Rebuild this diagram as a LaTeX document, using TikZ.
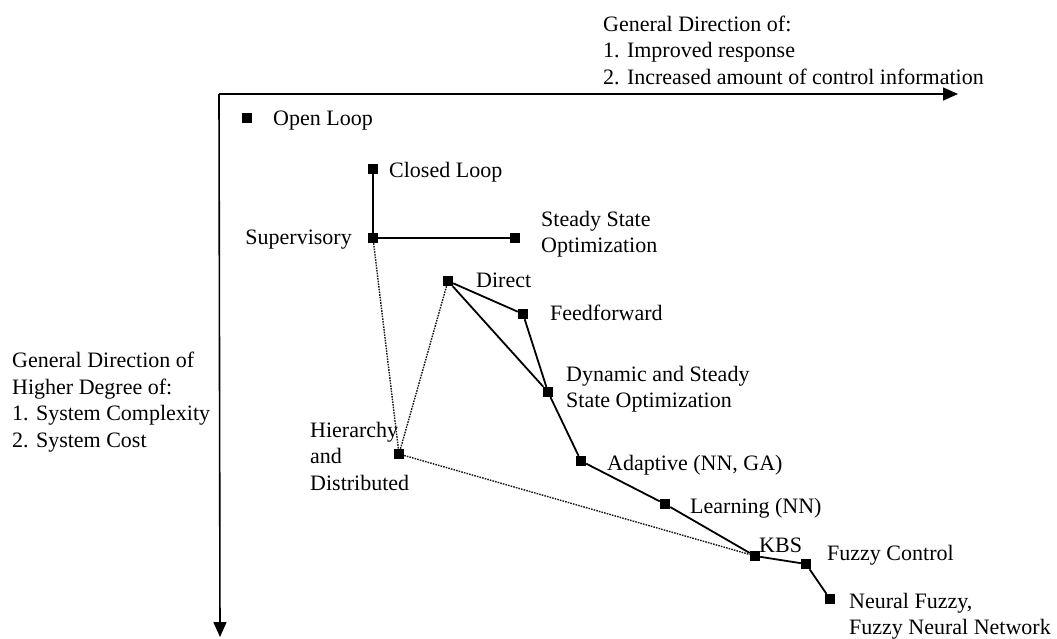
\documentclass[tikz,border=0pt]{standalone}
\usepackage{fontspec}
\setmainfont{Liberation Serif}
\usetikzlibrary{arrows.meta}
\begin{document}
\begin{tikzpicture}[x=1pt,y=-1pt,
  pt/.style={fill=black,draw=none,minimum size=10pt,inner sep=0pt},
  lbl/.style={anchor=west,inner sep=0pt,font=\fontsize{22}{26.5}\selectfont,align=left},
  sline/.style={line width=1.8pt},
  dline/.style={line width=1.4pt,black!90,dash pattern=on 1.6pt off 1.1pt},
  axis/.style={line width=1.6pt,-{Triangle[length=15pt,width=13pt]}}]
\useasboundingbox (0,0) rectangle (1057,638);
% axes
\coordinate (corner) at (219,94);
\coordinate (xend) at (958,94);
\coordinate (yend) at (220,637);
\draw[axis] (corner) -- (xend);
\draw[axis] (corner) -- (yend);
% points
\node[pt] (ol)  at (247,118) {};
\node[pt] (cl)  at (373,169) {};
\node[pt] (sup) at (373,238) {};
\node[pt] (sso) at (515,238) {};
\node[pt] (dir) at (448,281) {};
\node[pt] (ff)  at (523,314) {};
\node[pt] (dyn) at (548,392) {};
\node[pt] (hd)  at (399,454) {};
\node[pt] (ada) at (581,461) {};
\node[pt] (lrn) at (665,504) {};
\node[pt] (kbs) at (755,556) {};
\node[pt] (fc)  at (806,564) {};
\node[pt] (nf)  at (830,599) {};
% solid connectors
\draw[sline] (cl) -- (sup);
\draw[sline] (sup) -- (sso);
\draw[sline] (dir) -- (ff);
\draw[sline] (dir) -- (dyn);
\draw[sline] (ff) -- (dyn);
\draw[sline] (dyn) -- (ada) -- (lrn) -- (kbs) -- (fc) -- (nf);
% dotted connectors
\draw[dline] (sup) -- (hd);
\draw[dline] (dir) -- (hd);
\draw[dline] (hd) -- (kbs);
% labels
\node[lbl] (tol) at (273,121) {Open Loop};
\node[lbl] (tcl) at (389,172) {Closed Loop};
\node[lbl,anchor=east] (tsup) at (352,240) {Supervisory};
\node[lbl] (tsso) at (541,234) {Steady State\\Optimization};
\node[lbl] (tdir) at (476,280) {Direct};
\node[lbl] (tff) at (550,313) {Feedforward};
\node[lbl] (tdyn) at (566,389) {Dynamic and Steady\\State Optimization};
\node[lbl] (thd) at (310,456) {Hierarchy\\and\\Distributed};
\node[lbl] (tada) at (607,465) {Adaptive (NN, GA)};
\node[lbl] (tlrn) at (690,508) {Learning (NN)};
\node[lbl] (tkbs) at (759,545) {KBS};
\node[lbl] (tfc) at (827,555) {Fuzzy Control};
\node[lbl] (tnf) at (849,616) {Neural Fuzzy,\\Fuzzy Neural Network};
\node[lbl] (ttop) at (603,50) {General Direction of:\\1. Improved response\\2. Increased amount of control information};
\node[lbl] (tleft) at (12,402) {General Direction of\\Higher Degree of:\\1. System Complexity\\2. System Cost};
\end{tikzpicture}
\end{document}
